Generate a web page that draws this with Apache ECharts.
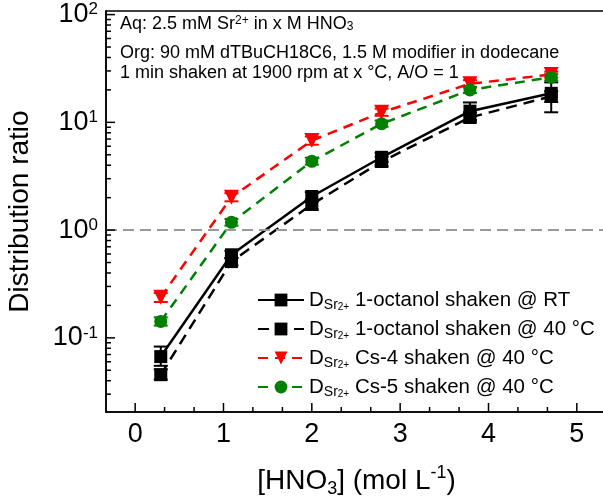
<!DOCTYPE html>
<html>
<head>
<meta charset="utf-8">
<title></title>
<script src="https://cdn.jsdelivr.net/npm/echarts@6/dist/echarts.min.js"></script>
<style>
  html, body { margin: 0; padding: 0; background: #fff; }
  #main { width: 603px; height: 501px; }
</style>
</head>
<body>
<div id="main"></div>
<script>
  // [HNO3] values (mol/L), shared by all four series
  var acid = [0.29, 1.09, 2.0, 2.79, 3.79, 4.71];

  var dRT   = [0.067, 0.59, 2.05, 4.74, 12.7, 18.6];
  var d40   = [0.0455, 0.51, 1.73, 4.33, 11.1, 17.4];
  var dCs4  = [0.238, 2.02, 6.78, 12.4, 22.8, 27.8];
  var dCs5  = [0.142, 1.18, 4.35, 9.7, 20.0, 26.2];

  // error bars [low, high]
  var errRT  = [[0.055, 0.083], [0.55, 0.64], [1.85, 2.25], [4.3, 5.2], [10.5, 15.3], [12.4, 23.5]];
  var err40  = [[0.041, 0.051], [0.47, 0.55], [1.55, 1.9], [3.9, 4.8], [10.0, 12.3], [15.5, 19.5]];
  var errCs4 = [[0.215, 0.26], [1.85, 2.2], [6.2, 7.4], [11.5, 13.4], [21, 24.6], [26, 29.5]];
  var errCs5 = [[0.13, 0.155], [1.1, 1.27], [4.05, 4.7], [9.1, 10.4], [18.7, 21.4], [24.5, 28]];

  var xTicks = [0, 1, 2, 3, 4, 5];
  var xMinor = [0.333, 0.667, 1.333, 1.667, 2.333, 2.667, 3.333, 3.667, 4.333, 4.667, 5.333];
  var yTicks = [0.1, 1, 10, 100];
  var yMinor = [0.03, 0.04, 0.05, 0.06, 0.07, 0.08, 0.09,
                0.2, 0.3, 0.4, 0.5, 0.6, 0.7, 0.8, 0.9,
                2, 3, 4, 5, 6, 7, 8, 9,
                20, 30, 40, 50, 60, 70, 80, 90];

  var names = [
    'D{sub|Sr}{sup2|2+} 1-octanol shaken @ RT',
    'D{sub|Sr}{sup2|2+} 1-octanol shaken @ 40 °C',
    'D{sub|Sr}{sup2|2+} Cs-4 shaken @ 40 °C',
    'D{sub|Sr}{sup2|2+} Cs-5 shaken @ 40 °C'
  ];

  var FONT = 'Liberation Sans';

  function pairs(ys) {
    return acid.map(function (x, i) { return [x, ys[i]]; });
  }
  function errData(e) {
    return acid.map(function (x, i) { return [x, e[i][0], e[i][1]]; });
  }
  function errSeries(e, color) {
    return {
      type: 'custom',
      data: errData(e),
      encode: { x: 0, y: [1, 2] },
      z: 1,
      silent: true,
      renderItem: function (params, api) {
        var x = api.value(0);
        var lo = api.coord([x, api.value(1)]);
        var hi = api.coord([x, api.value(2)]);
        var w = 7;
        var st = { stroke: color, lineWidth: 2 };
        return {
          type: 'group',
          children: [
            { type: 'line', shape: { x1: lo[0], y1: lo[1], x2: hi[0], y2: hi[1] }, style: st },
            { type: 'line', shape: { x1: lo[0] - w, y1: lo[1], x2: lo[0] + w, y2: lo[1] }, style: st },
            { type: 'line', shape: { x1: hi[0] - w, y1: hi[1], x2: hi[0] + w, y2: hi[1] }, style: st }
          ]
        };
      }
    };
  }

  // inward ticks on the bottom / left axis lines
  function tickMarks(vals, len, dir) {
    return {
      type: 'custom',
      silent: true,
      z: 6,
      data: vals.map(function (v) { return dir === 'x' ? [v, 1] : [1, v]; }),
      encode: { x: 0, y: 1 },
      renderItem: function (params, api) {
        var cs = params.coordSys;
        var p = api.coord([api.value(0), api.value(1)]);
        var shape;
        if (dir === 'x') {
          var b = cs.y + cs.height;
          shape = { x1: p[0], y1: b, x2: p[0], y2: b - len };
        } else {
          shape = { x1: cs.x, y1: p[1], x2: cs.x + len, y2: p[1] };
        }
        return {
          type: 'group',
          children: [{ type: 'line', shape: shape, style: { stroke: '#000', lineWidth: 1.5 } }]
        };
      }
    };
  }

  var myChart = echarts.init(document.getElementById('main'));

  var option = {
    backgroundColor: '#fff',
    animation: false,
    grid: {
      left: 106, top: 11, width: 515, bottom: 89,
      outerBoundsMode: 'none', containLabel: false,
      show: true, borderColor: '#000', borderWidth: 1.5, backgroundColor: 'transparent'
    },
    legend: {
      left: 252, top: 283,
      orient: 'vertical',
      itemWidth: 46, itemHeight: 16, itemGap: 5,
      textStyle: {
        fontFamily: FONT, fontSize: 20.5, color: '#000', lineHeight: 24,
        rich: {
          sub: { fontFamily: FONT, fontSize: 14, verticalAlign: 'bottom', lineHeight: 10 },
          sup2: { fontFamily: FONT, fontSize: 10, verticalAlign: 'bottom', lineHeight: 21 }
        }
      },
      data: names
    },
    xAxis: {
      type: 'value', min: -0.33, max: 5.5,
      name: '[HNO{sub|3}] (mol L{sup|-1})',
      nameLocation: 'middle', nameGap: 52,
      nameTextStyle: {
        fontFamily: FONT, fontSize: 28, color: '#000', lineHeight: 34,
        padding: [0, 14, 0, 0],
        rich: {
          sub: { fontFamily: FONT, fontSize: 18, verticalAlign: 'bottom', lineHeight: 14 },
          sup: { fontFamily: FONT, fontSize: 18, verticalAlign: 'top', lineHeight: 18 }
        }
      },
      splitLine: { show: false },
      axisLine: { show: true, onZero: false, lineStyle: { color: '#000', width: 1.5 } },
      axisTick: { show: false },
      axisLabel: { customValues: xTicks, fontFamily: FONT, fontSize: 27, color: '#000', margin: 9 }
    },
    yAxis: {
      type: 'log', logBase: 10, min: 0.0205, max: 108,
      name: 'Distribution ratio',
      nameLocation: 'middle', nameGap: 72, nameRotate: 90,
      nameTextStyle: { fontFamily: FONT, fontSize: 28, color: '#000' },
      splitLine: { show: false },
      axisLine: { show: true, onZero: false, lineStyle: { color: '#000', width: 1.5 } },
      axisTick: { show: false },
      axisLabel: {
        customValues: yTicks, margin: 8, color: '#000', fontFamily: FONT, fontSize: 27,
        formatter: function (v) {
          return '10{sup|' + Math.round(Math.log10(v)) + '}';
        },
        rich: {
          sup: { fontFamily: FONT, fontSize: 17, verticalAlign: 'top', lineHeight: 16, color: '#000' }
        }
      }
    },
    graphic: [
      {
        type: 'text', left: 120, top: 15,
        style: {
          text: 'Aq: 2.5 mM Sr{sup|2+} in x M HNO{sub|3}',
          font: '18px "Liberation Sans"', fill: '#000',
          rich: {
            sup: { fontSize: 12, fontFamily: FONT, verticalAlign: 'top', lineHeight: 12 },
            sub: { fontSize: 12, fontFamily: FONT, verticalAlign: 'bottom', lineHeight: 8 }
          }
        }
      },
      {
        type: 'text', left: 120, top: 44,
        style: { text: 'Org: 90 mM dTBuCH18C6, 1.5 M modifier in dodecane', font: '18px "Liberation Sans"', fill: '#000' }
      },
      {
        type: 'text', left: 120, top: 64,
        style: { text: '1 min shaken at 1900 rpm at x °C, A/O = 1', font: '18px "Liberation Sans"', fill: '#000' }
      }
    ],
    series: [
      tickMarks(xTicks, 9, 'x'),
      tickMarks(xMinor, 5, 'x'),
      tickMarks(yTicks, 9, 'y'),
      tickMarks(yMinor, 5, 'y'),
      errSeries(errRT, '#000'),
      errSeries(err40, '#000'),
      errSeries(errCs4, '#ff0000'),
      errSeries(errCs5, '#008000'),
      {
        name: names[0], type: 'line', data: pairs(dRT), z: 3,
        symbol: 'rect', symbolSize: 13,
        itemStyle: { color: '#000' },
        lineStyle: { color: '#000', width: 2.5, type: 'solid' },
        markLine: {
          silent: true, symbol: 'none', label: { show: false },
          lineStyle: { color: '#999', type: [11, 6], width: 2 },
          data: [{ yAxis: 1 }]
        }
      },
      {
        name: names[1], type: 'line', data: pairs(d40), z: 3,
        symbol: 'rect', symbolSize: 13,
        itemStyle: { color: '#000' },
        lineStyle: { color: '#000', width: 2.5, type: [11, 7] }
      },
      {
        name: names[2], type: 'line', data: pairs(dCs4), z: 3,
        symbol: 'triangle', symbolRotate: 180, symbolSize: 15,
        itemStyle: { color: '#ff0000' },
        lineStyle: { color: '#ff0000', width: 2.5, type: [10, 7] }
      },
      {
        name: names[3], type: 'line', data: pairs(dCs5), z: 3,
        symbol: 'circle', symbolSize: 13,
        itemStyle: { color: '#008000' },
        lineStyle: { color: '#008000', width: 2.5, type: [10, 7] }
      }
    ]
  };

  myChart.setOption(option);
</script>
</body>
</html>
